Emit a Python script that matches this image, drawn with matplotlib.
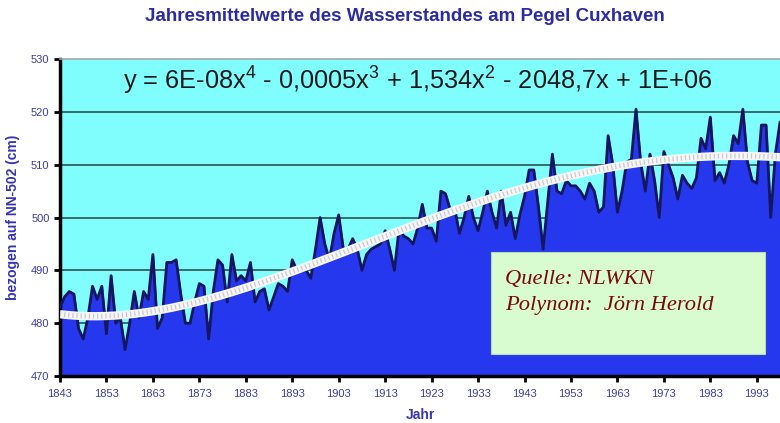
import numpy as np
import matplotlib
matplotlib.use("Agg")
import matplotlib.pyplot as plt

plt.rcParams['font.family'] = ['Liberation Sans', 'DejaVu Sans']

# Jahresmittelwerte Pegel Cuxhaven (cm, bezogen auf NN-502)
years = list(range(1843, 2000))
levels = [
    483, 485, 486, 485.5, 479, 477, 481, 487, 484.5, 487,          # 1843-1852
    478, 489, 480, 481, 475, 480, 486, 481, 486, 484.5,            # 1853-1862
    493, 479, 481, 491.5, 491.5, 492, 485.5, 480, 480, 484,        # 1863-1872
    487.5, 487, 477, 486, 492, 491, 484, 493, 488, 489,            # 1873-1882
    488, 491.5, 484, 486, 486.5, 482.5, 485, 487.5, 487, 486,      # 1883-1892
    492, 490, 490, 490, 488.5, 494, 500, 495, 492, 497,            # 1893-1902
    500.5, 494, 494, 496, 494, 490, 493, 494, 494.5, 495,          # 1903-1912
    497.5, 494, 490, 498, 496.5, 496, 495, 498, 502.5, 498,        # 1913-1922
    498, 495.5, 505, 504.5, 501.5, 501.5, 497, 500, 504, 500,      # 1923-1932
    497.5, 501, 505, 501, 498, 505, 498.5, 501, 496, 500.5,        # 1933-1942
    504, 509, 509, 502, 494, 503, 512, 505, 504.5, 507,            # 1943-1952
    506, 506, 505, 503.5, 506.5, 505, 501, 502, 515.5, 510,        # 1953-1962
    501, 505, 510.5, 511, 520.5, 510.5, 505, 512, 507, 500,        # 1963-1972
    512.5, 510, 507.5, 503.5, 508, 506.5, 505.5, 507.5, 515, 513,  # 1973-1982
    519, 507, 508.5, 506.5, 510, 515.5, 514, 520.5, 510.5, 507,    # 1983-1992
    506.5, 517.5, 517.5, 500, 512, 518, 519,                       # 1993-1999
]
# Lage der Trendlinie im Original, wird mit Polynom 4. Grades geglättet
trend_years = [1843, 1853, 1863, 1873, 1883, 1893, 1903, 1913,
               1923, 1933, 1943, 1953, 1963, 1973, 1983, 1993]
trend_levels = [481.5, 481.6, 482.5, 484, 486.6, 489.8, 493, 496.1,
                499.9, 503.3, 505.9, 507.6, 509.6, 510.9, 511.5, 511.7]
yticks = [470, 480, 490, 500, 510, 520, 530]
xticks = list(range(1843, 1994, 10))

title = "Jahresmittelwerte des Wasserstandes am Pegel Cuxhaven"
equation = (r"y = 6E-08x$\mathregular{^4}$ - 0,0005x$\mathregular{^3}$ + "
            r"1,534x$\mathregular{^2}$ - 2048,7x + 1E+06")

fig = plt.figure(figsize=(7.8, 4.23), dpi=100)
ax = fig.add_axes([0.0769, 0.111, 0.9231, 0.7495])
ax.set_facecolor('#80fdfd')

x = np.array(years, dtype=float)
y = np.array(levels)

# Gitterlinien hinter der Fläche
for v in yticks[1:-1]:
    ax.axhline(v, color='#3b6b6b', lw=1.4, zorder=1)

ax.fill_between(x, y, 470, color='#2638ee', zorder=2)
ax.plot(x, y, color='#151560', lw=2.0, zorder=3)

# Polynom-Trendlinie 4. Grades
coef = np.polyfit(np.array(trend_years) - 1920.0, trend_levels, 4)
xs = np.linspace(1843, 1999, 300)
trend = np.polyval(coef, xs - 1920)
ax.plot(xs, trend, color='#f6f6f6', lw=6, solid_capstyle='butt', zorder=4)
ax.plot(xs, trend, color='#c8c8d0', lw=3.5, dashes=(0.25, 0.6), zorder=5)

ax.set_xlim(1843, 1998)
ax.set_ylim(470, 530)
ax.set_xticks(xticks)
ax.set_yticks(yticks)
ax.tick_params(axis='both', colors='black', width=2, length=4,
               labelsize=8, labelcolor='#3c3ca8')
ax.tick_params(axis='x', pad=5)

ax.spines['right'].set_visible(False)
ax.spines['top'].set_color('#a0a8a8')
ax.spines['top'].set_linewidth(1.2)
ax.spines['left'].set_linewidth(2.5)
ax.spines['bottom'].set_linewidth(2.5)

ax.set_ylabel("bezogen auf NN-502 (cm)", fontsize=10, fontweight='bold',
              color='#3535b0', labelpad=8)
ax.set_xlabel("Jahr", fontsize=10, fontweight='bold', color='#3535b0',
              labelpad=7)

fig.text(0.519, 0.962, title, ha='center', va='center', fontsize=13.5,
         fontweight='bold', color='#2b2ba5')

ax.text(0.087, 0.93, equation, transform=ax.transAxes, fontsize=18.3,
        color='#1a1a1a', ha='left', va='center', zorder=6)

# Quellenkasten
box = plt.Rectangle((0.5986, 0.069), 0.3806, 0.322, transform=ax.transAxes,
                    facecolor='#d8fcd0', edgecolor='#b8d8b8', lw=0.8, zorder=6)
ax.add_patch(box)
ax.text(0.618, 0.305, "Quelle: NLWKN", transform=ax.transAxes,
        fontsize=16.2, fontstyle='italic', family='Liberation Serif',
        color='#7a0a0a', va='center', zorder=7)
ax.text(0.618, 0.221, "Polynom:  Jörn Herold", transform=ax.transAxes,
        fontsize=16.2, fontstyle='italic', family='Liberation Serif',
        color='#7a0a0a', va='center', zorder=7)

fig.savefig("out.png", dpi=100)
